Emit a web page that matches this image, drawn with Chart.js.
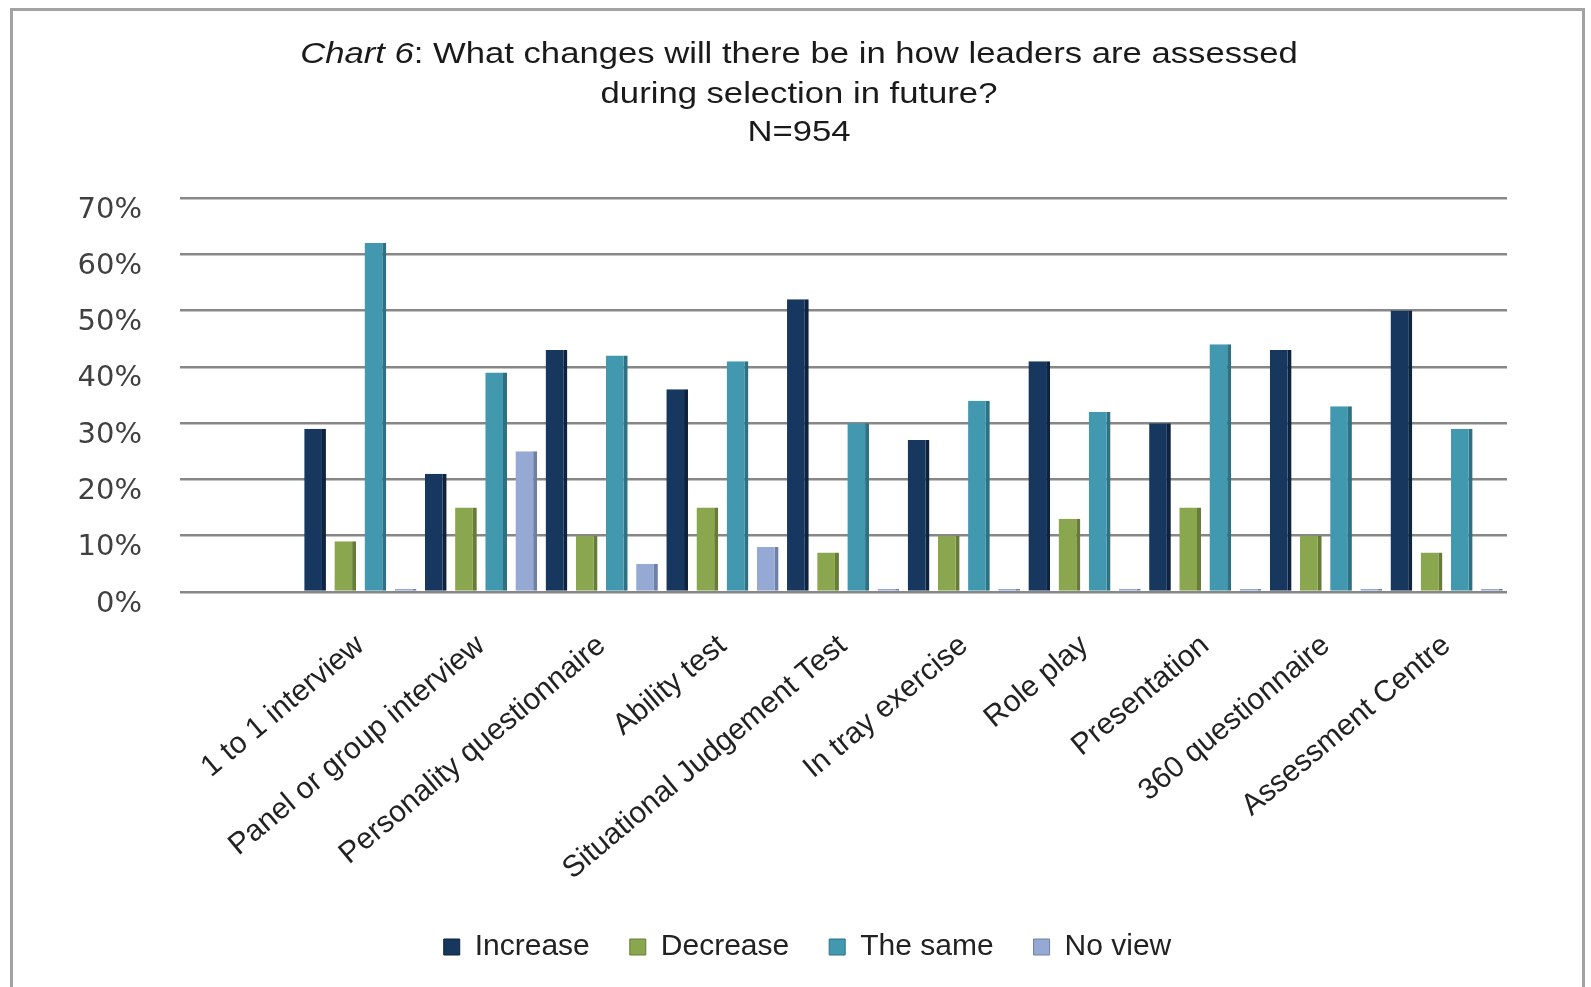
<!DOCTYPE html>
<html>
<head>
<meta charset="utf-8">
<title>Chart 6</title>
<script src="https://cdn.jsdelivr.net/npm/chart.js@4.4.1/dist/chart.umd.min.js"></script>
<style>
  html, body { margin: 0; padding: 0; background: #ffffff; overflow: hidden; }
  #frame {
    position: absolute; left: 10px; top: 8px; width: 1575px; height: 1000px;
    border: 3px solid #a3a3a3; border-bottom: none; box-sizing: border-box;
  }
  #grafiek { position: absolute; left: 0; top: 0; }
</style>
</head>
<body>
<div id="frame"></div>
<canvas id="grafiek" width="1591" height="987"></canvas>
<script>
const categorieen = [
  "1 to 1 interview", "Panel or group interview", "Personality questionnaire",
  "Ability test", "Situational Judgement Test", "In tray exercise",
  "Role play", "Presentation", "360 questionnaire", "Assessment Centre"
];
const toename   = [29, 21, 43, 36, 52, 27, 41, 30, 43, 50]; // Increase
const afname    = [9, 15, 10, 15, 7, 10, 13, 15, 10, 7];    // Decrease
const gelijk    = [62, 39, 42, 41, 30, 34, 32, 44, 33, 29]; // The same
const geenMening = [0, 25, 5, 8, 0, 0, 0, 0, 0, 0];         // No view
const yTicks = [0, 10, 20, 30, 40, 50, 60, 70];

const titelRegels = [
  ["Chart 6", ": What changes will there be in how leaders are assessed"],
  ["", "during selection in future?"],
  ["", "N=954"]
];

// titel zelf tekenen: "Chart 6" staat cursief, tekst iets breder uitgerekt
const titelPlugin = {
  id: 'titelPlugin',
  afterDraw(chart) {
    const c = chart.ctx;
    const basis = '30px "Liberation Sans", Arial, sans-serif';
    const cursief = 'italic 30px "Liberation Sans", Arial, sans-serif';
    const rek = 1.155;
    const ys = [55, 95, 133];
    c.save();
    c.fillStyle = '#1a1a1a';
    c.textBaseline = 'middle';
    c.textAlign = 'left';
    c.translate(799, 0);
    c.scale(rek, 1);
    titelRegels.forEach((r, i) => {
      c.font = cursief;
      const w1 = c.measureText(r[0]).width;
      c.font = basis;
      const w2 = c.measureText(r[1]).width;
      const x = -(w1 + w2) / 2;
      c.font = cursief;
      c.fillText(r[0], x, ys[i]);
      c.font = basis;
      c.fillText(r[1], x + w1, ys[i]);
    });
    c.restore();
  }
};

function reeks(label, data, kleur, zijkant, extra) {
  return Object.assign({
    label: label,
    data: data,
    backgroundColor: kleur,
    borderColor: zijkant,
    borderWidth: { top: 0, right: 4, bottom: 0, left: 0 },
    borderSkipped: false
  }, extra || {});
}

const ctx = document.getElementById('grafiek').getContext('2d');
new Chart(ctx, {
  type: 'bar',
  data: {
    labels: categorieen,
    datasets: [
      reeks("Increase", toename, "#17375e", "#0d2340"),
      reeks("Decrease", afname, "#8aa64e", "#667c37"),
      reeks("The same", gelijk, "#4198af", "#2d7183"),
      reeks("No view", geenMening, "#95a9d4", "#6f80a6", { minBarLength: 3 })
    ]
  },
  plugins: [titelPlugin],
  options: {
    responsive: false,
    animation: false,
    devicePixelRatio: 1,
    categoryPercentage: 1.0,
    barPercentage: 0.72,
    layout: { padding: { top: 198, right: 0, left: 24, bottom: 15 } },
    scales: {
      y: {
        min: 0,
        max: 70,
        afterBuildTicks: s => { s.ticks = yTicks.map(v => ({ value: v })); },
        afterFit: s => { s.width = 276; },
        ticks: {
          callback: v => v + '%',
          padding: 38,
          labelOffset: 12,
          color: '#404040',
          font: { family: '"DejaVu Sans", sans-serif', size: 29 }
        },
        grid: { color: '#878787', lineWidth: 2.5, tickLength: 120, tickColor: '#878787' },
        border: { display: false }
      },
      // lege as rechts, houdt ruimte vrij naast het plotvlak
      rechts: {
        position: 'right',
        display: true,
        min: 0,
        max: 70,
        afterFit: s => { s.width = 84; },
        ticks: { display: false },
        grid: { display: false },
        border: { display: false }
      },
      x: {
        afterFit: s => { s.height = 300; },
        grid: { display: false },
        border: { display: false },
        ticks: {
          autoSkip: false,
          minRotation: 40,
          maxRotation: 40,
          padding: 28,
          color: '#222222',
          font: { family: '"Liberation Sans", Arial, sans-serif', size: 30 }
        }
      }
    },
    plugins: {
      title: { display: false },
      tooltip: { enabled: false },
      legend: {
        position: 'bottom',
        labels: {
          boxWidth: 16,
          boxHeight: 16,
          padding: 40,
          color: '#222222',
          font: { family: '"Liberation Sans", Arial, sans-serif', size: 30 }
        }
      }
    }
  }
});
</script>
</body>
</html>
